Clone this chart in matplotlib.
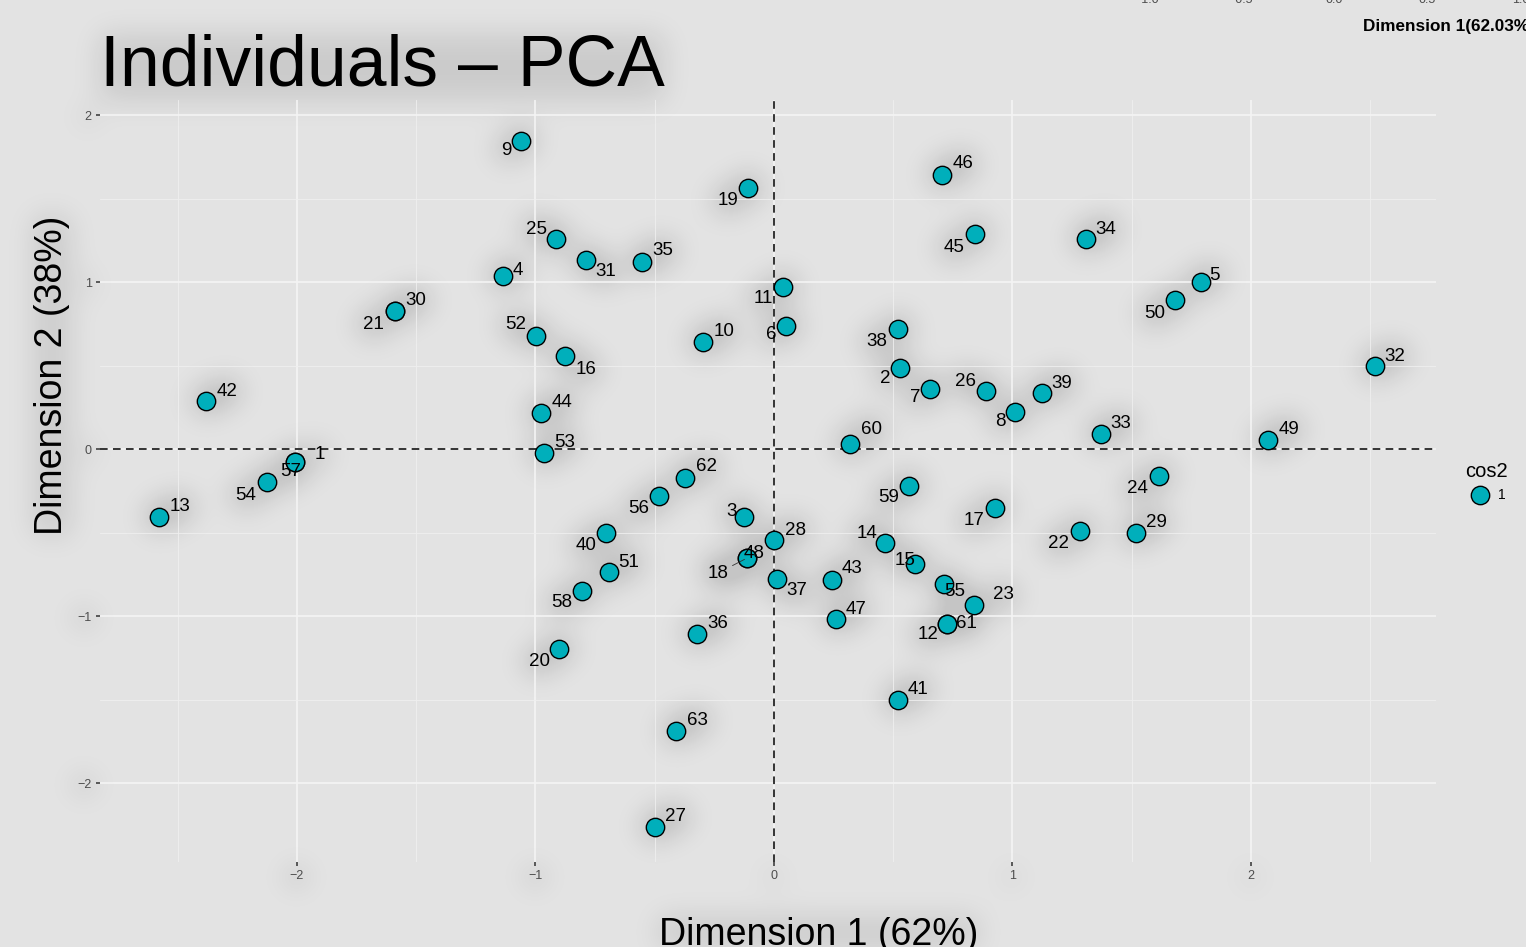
import numpy as np
import matplotlib
matplotlib.use('Agg')
import matplotlib.pyplot as plt

plt.rcParams['font.family'] = ['Liberation Sans', 'DejaVu Sans']

# individual coordinates on the first two principal components
names = [str(i) for i in range(1, 64)]
dim1 = [-2.01, 0.53, -0.126, -1.136, 1.79, 0.05, 0.654, 1.01, -1.06, -0.298,
        0.038, 0.725, -2.58, 0.465, 0.591, -0.876, 0.927, -0.113, -0.109, -0.90,
        -1.589, 1.283, 0.839, 1.614, -0.914, 0.889, -0.499, 0.0, 1.518, -1.589,
        -0.788, 2.52, 1.371, 1.308, -0.553, -0.323, 0.013, 0.52, 1.124, -0.704,
        0.52, -2.38, 0.243, -0.977, 0.843, 0.704, 0.26, -0.113, 2.071, 1.681,
        -0.692, -0.998, -0.964, -2.126, 0.713, -0.482, -2.01, -0.805, 0.566, 0.319,
        0.725, -0.373, -0.411]
dim2 = [-0.08, 0.485, -0.41, 1.036, 1.0, 0.737, 0.36, 0.22, 1.844, 0.64,
        0.97, -1.048, -0.407, -0.563, -0.689, 0.557, -0.353, -0.653, 1.563, -1.198,
        0.826, -0.491, -0.934, -0.162, 1.257, 0.347, -2.263, -0.545, -0.503, 0.826,
        1.13, 0.497, 0.09, 1.257, 1.12, -1.108, -0.778, 0.719, 0.335, -0.503,
        -1.503, 0.287, -0.784, 0.216, 1.287, 1.641, -1.018, -0.653, 0.054, 0.892,
        -0.737, 0.677, -0.024, -0.198, -0.808, -0.281, -0.08, -0.85, -0.222, 0.03,
        -1.048, -0.174, -1.689]
x_ticks = [-2, -1, 0, 1, 2]
y_ticks = [-2, -1, 0, 1, 2]
inset_ticks = [-1.0, -0.5, 0.0, 0.5, 1.0]

# where the repelled labels ended up, pixels from the point (right, down)
nudge = {
    '1': (25, -8), '2': (-15, 10), '3': (-12, -6), '4': (15, -6), '5': (14, -7),
    '6': (-15, 9), '7': (-15, 9), '8': (-14, 9), '9': (-15, 9), '10': (21, -11),
    '11': (-20, 11), '12': (-19, 10), '13': (21, -10), '14': (-18, -10), '15': (-10, -4),
    '16': (21, 13), '17': (-21, 13), '18': (-29, 15), '19': (-20, 12), '20': (-20, 12),
    '21': (-22, 13), '22': (-21, 12), '23': (29, -10), '24': (-21, 12), '25': (-19, -10),
    '26': (-20, -10), '27': (21, -10), '28': (22, -10), '29': (20, -11), '30': (21, -11),
    '31': (20, 11), '32': (20, -10), '33': (20, -10), '34': (20, -10), '35': (21, -11),
    '36': (21, -11), '37': (20, 12), '38': (-21, 13), '39': (20, -10), '40': (-20, 12),
    '41': (20, -11), '42': (21, -10), '43': (20, -11), '44': (21, -10), '45': (-21, 13),
    '46': (21, -11), '47': (20, -10), '48': (7, -5), '49': (21, -11), '50': (-20, 13),
    '51': (20, -10), '52': (-20, -11), '53': (21, -11), '54': (-21, 13), '55': (11, 8),
    '56': (-20, 13), '57': (-4, 9), '58': (-20, 12), '59': (-20, 11), '60': (21, -15),
    '61': (20, -1), '62': (21, -12), '63': (21, -11),
}

W, H = 1526, 947
BG = '#E3E3E3'
fig = plt.figure(figsize=(W / 100, H / 100), dpi=100, facecolor=BG)


def px_box(l, t, r, b):
    return [l / W, 1 - b / H, (r - l) / W, (b - t) / H]


ax = fig.add_axes(px_box(100, 100, 1436, 862))
ax.set_facecolor('none')
ax.set_xlim(-2.826, 2.776)
ax.set_ylim(-2.473, 2.09)
ax.set_xticks(x_ticks)
ax.set_yticks(y_ticks)
ax.set_xticks(np.arange(-2.5, 3, 1), minor=True)
ax.set_yticks(np.arange(-1.5, 2, 1), minor=True)
ax.grid(which='major', color='#F4F4F4', lw=1.2)
ax.grid(which='minor', color='#EFEFEF', lw=0.6)
ax.set_axisbelow(True)
ax.tick_params(which='major', length=3, width=1.1, color='#333333',
               labelsize=9, labelcolor='#4D4D4D', pad=3)
ax.tick_params(which='minor', length=0)
for s in ax.spines.values():
    s.set_visible(False)

ax.axhline(0, color='black', ls=(0, (5, 3.5)), lw=1.1, zorder=2)
ax.axvline(0, color='black', ls=(0, (5, 3.5)), lw=1.1, zorder=2)

sc = ax.scatter(dim1, dim2, s=175, c='#00AFBB', edgecolors='black',
                linewidths=1.0, zorder=3)

texts = []
for i, n in enumerate(names):
    dx, dy = nudge[n]
    kw = {}
    if n == '18':
        kw['arrowprops'] = dict(arrowstyle='-', lw=0.6, color='#333333',
                                shrinkA=1, shrinkB=2)
    t = ax.annotate(n, (dim1[i], dim2[i]), xytext=(dx, -dy),
                    textcoords='offset pixels', ha='center', va='center',
                    fontsize=13.5, zorder=4, **kw)
    texts.append(t)

title = fig.text(100 / W, 1 - 86 / H, 'Individuals – PCA', fontsize=51.5,
                 ha='left', va='baseline')
xlab = fig.text(819 / W, 1 - 945 / H, 'Dimension 1 (62%)', fontsize=27,
                ha='center', va='baseline')
ylab = fig.text(52 / W, 1 - 375 / H, 'Dimension 2 (38%)', fontsize=27,
                rotation=90, ha='center', va='center')

leg = ax.legend(handles=[sc], labels=['1'], title='cos2', loc='center',
                bbox_to_anchor=(1486 / W, 1 - 482 / H),
                bbox_transform=fig.transFigure, frameon=False, fontsize=10,
                title_fontsize=14.5, handletextpad=0.3, borderaxespad=0)

# leftover of a cropped inset above the figure
ax_in = fig.add_axes([1128.3 / W, 1 + 9 / H, 411.4 / W, 100 / H])
ax_in.set_facecolor('none')
ax_in.set_xlim(-1.1, 1.1)
ax_in.set_xticks(inset_ticks)
ax_in.set_yticks([])
ax_in.tick_params(length=0, labelsize=9, pad=2, labelcolor='#4D4D4D')
for s in ax_in.spines.values():
    s.set_visible(False)
ax_in.set_xlabel('Dimension 1(62.03%)', fontsize=12.3, fontweight='bold')
ax_in.xaxis.set_label_coords(0.78, -0.4)
ax_in.xaxis.label.set_va('baseline')

# soft glow behind points and text
fig.canvas.draw()
renderer = fig.canvas.get_renderer()
mask = np.zeros((H, W))
pts = ax.transData.transform(np.column_stack([dim1, dim2]))
r = 11
yy, xx = np.mgrid[-r:r + 1, -r:r + 1]
disk = (xx ** 2 + yy ** 2) <= r ** 2
for px, py in pts:
    cx, cy = int(round(px)), int(round(py))
    if r <= cx < W - r and r <= cy < H - r:
        sub = mask[cy - r:cy + r + 1, cx - r:cx + r + 1]
        sub[disk] = 1


def stamp(artists, weight):
    for a in artists:
        bb = a.get_window_extent(renderer)
        x0, x1 = max(int(bb.x0), 0), min(int(bb.x1), W)
        y0, y1 = max(int(bb.y0), 0), min(int(bb.y1), H)
        sub = mask[y0:y1, x0:x1]
        np.maximum(sub, weight, out=sub)


stamp(texts, 1.0)
stamp(ax.get_xticklabels() + ax.get_yticklabels(), 0.8)
stamp([title, xlab, ylab], 0.35)


def blur(a, sigma):
    k = np.exp(-0.5 * (np.arange(-3 * sigma, 3 * sigma + 1) / sigma) ** 2)
    k /= k.sum()
    a = np.apply_along_axis(lambda v: np.convolve(v, k, mode='same'), 0, a)
    return np.apply_along_axis(lambda v: np.convolve(v, k, mode='same'), 1, a)


glow = blur(mask, 14)
rgba = np.zeros((H, W, 4))
rgba[..., 3] = np.clip(0.3 * glow, 0, 0.13)
bg = fig.add_axes([0, 0, 1, 1], zorder=-1)
bg.axis('off')
bg.imshow(rgba, origin='lower', extent=(0, W, 0, H), aspect='auto')
bg.set_xlim(0, W)
bg.set_ylim(0, H)

fig.savefig('out.png', dpi=100, facecolor=BG)
